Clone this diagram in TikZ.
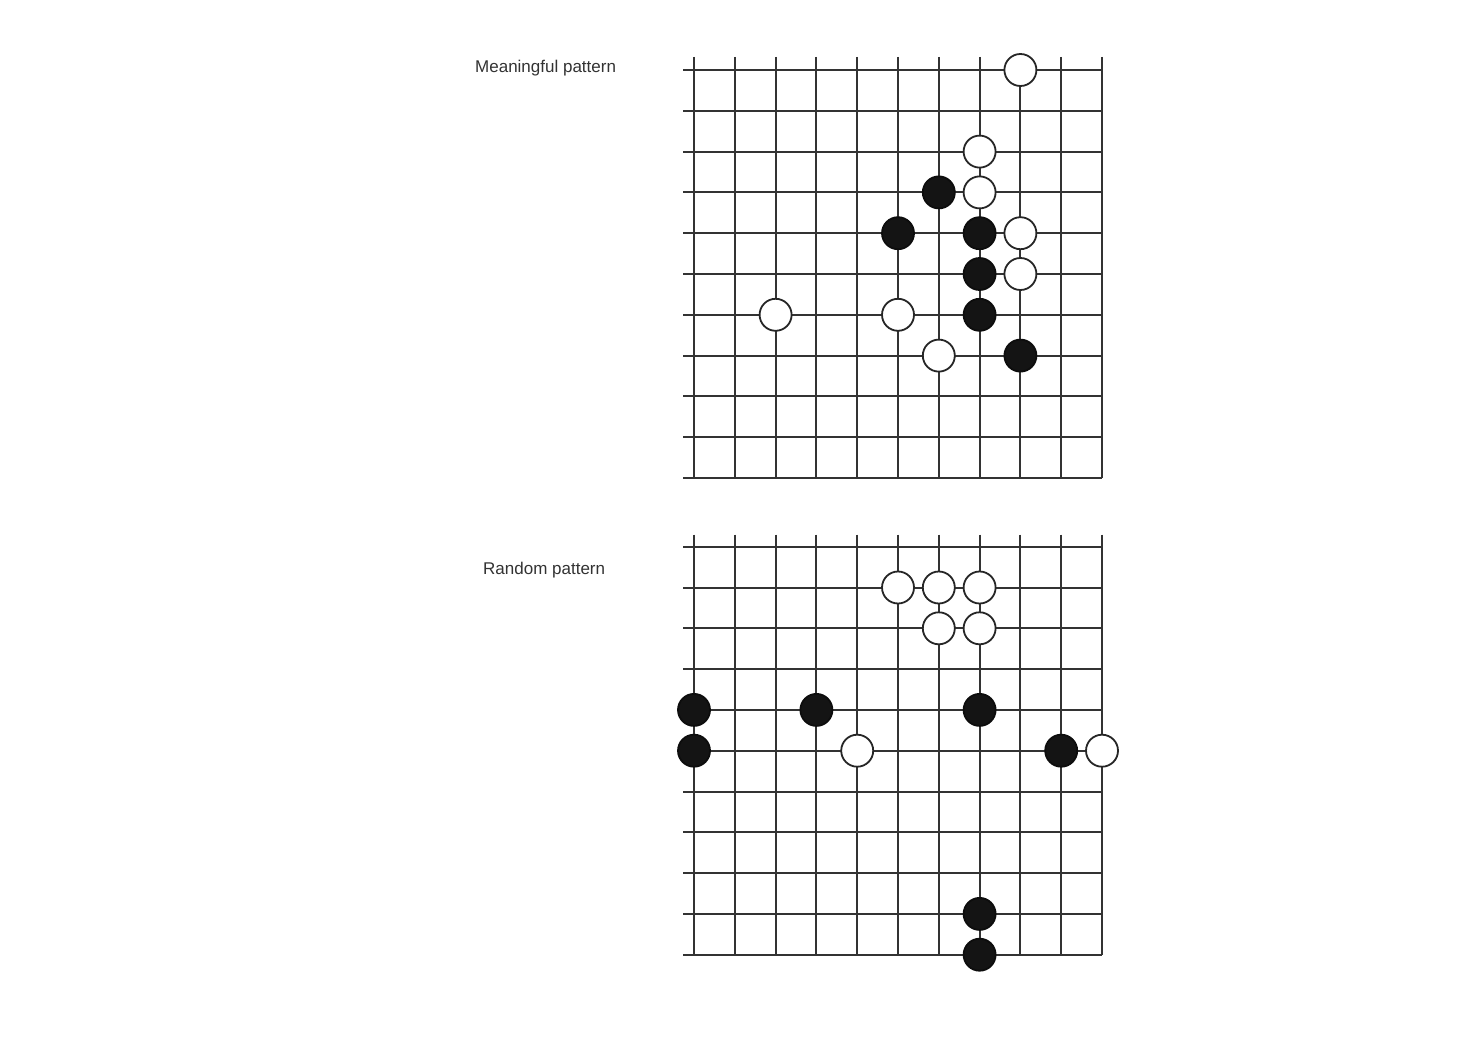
\documentclass[tikz,border=0pt]{standalone}
\usepackage{fontspec}
\setmainfont{Liberation Sans}
\begin{document}
\begin{tikzpicture}[x=1pt,y=-1pt,
  gridline/.style={line width=2pt, draw=black!80},
  wst/.style={circle, draw=black!85, line width=1.8pt, fill=white, minimum size=32pt, inner sep=0pt},
  bst/.style={circle, draw=black!95, fill=black!92, line width=1.8pt, minimum size=32pt, inner sep=0pt},
  lbl/.style={anchor=west, inner sep=0pt, text=black!80, font=\fontsize{17}{20}\selectfont}]
\useasboundingbox[fill=white] (0,0) rectangle (1474,1040);
\def\s{40.8}
% labels
\node[lbl] (lab1) at (475,68) {Meaningful pattern};
\node[lbl] (lab2) at (483,570) {Random pattern};
% top board
\begin{scope}[shift={(694,70)}]
  \foreach \i in {0,...,10} {
    \draw[gridline] (\i*\s,-13) -- (\i*\s,10*\s);
    \draw[gridline] (-11,\i*\s) -- (10*\s,\i*\s);
  }
  \foreach \c/\r [count=\k] in {8/0, 7/2, 7/3, 8/4, 8/5, 2/6, 5/6, 6/7}
    \node[wst] (tw\k) at (\c*\s,\r*\s) {};
  \foreach \c/\r [count=\k] in {6/3, 5/4, 7/4, 7/5, 7/6, 8/7}
    \node[bst] (tb\k) at (\c*\s,\r*\s) {};
\end{scope}
% bottom board
\begin{scope}[shift={(694,546.7)}]
  \foreach \i in {0,...,10} {
    \draw[gridline] (\i*\s,-12) -- (\i*\s,10*\s);
    \draw[gridline] (-11,\i*\s) -- (10*\s,\i*\s);
  }
  \foreach \c/\r [count=\k] in {5/1, 6/1, 7/1, 6/2, 7/2, 4/5, 10/5}
    \node[wst] (bw\k) at (\c*\s,\r*\s) {};
  \foreach \c/\r [count=\k] in {0/4, 3/4, 7/4, 0/5, 9/5, 7/9, 7/10}
    \node[bst] (bb\k) at (\c*\s,\r*\s) {};
\end{scope}
\end{tikzpicture}
\end{document}
